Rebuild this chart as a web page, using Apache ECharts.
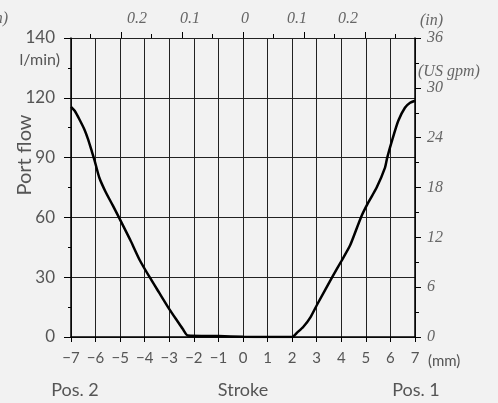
<!DOCTYPE html>
<html>
<head>
<meta charset="utf-8">
<script src="https://cdn.jsdelivr.net/npm/echarts@6/dist/echarts.min.js"></script>
<style>
  html, body { margin: 0; padding: 0; background: #f2f2f2; }
  #chart { width: 498px; height: 403px; }
</style>
</head>
<body>
<div id="chart"></div>
<script>
// stroke (mm) vs port flow (l/min)
var flowCurve = [
  [-7, 115.5], [-6.85, 113.5], [-6.65, 109], [-6.45, 104], [-6.3, 99], [-6.15, 93],
  [-6.05, 89], [-5.85, 80], [-5.6, 73], [-5.3, 66], [-5.05, 60], [-4.6, 49],
  [-4.2, 38.5], [-3.8, 30], [-3.4, 22], [-3, 14], [-2.7, 8.5], [-2.45, 4],
  [-2.25, 0.8], [-1, 0.5], [0, 0.1], [1, 0], [2, 0],
  [2.2, 2.2], [2.45, 5], [2.75, 10], [3.04, 16.8], [3.63, 30], [4, 38], [4.36, 46],
  [4.8, 60], [5.1, 67.5], [5.44, 75], [5.78, 85], [5.87, 90], [6.1, 100],
  [6.32, 108.5], [6.59, 115], [6.8, 117.5], [7, 118.5]
];

var xTickLabels = ['−7', '−6', '−5', '−4', '−3', '−2', '−1', '0', '1', '2', '3', '4', '5', '6', '7'];
var yTickValues = [0, 30, 60, 90, 120, 150];
var yTickLabels = ['0', '30', '60', '90', '120', '140'];

// top inch scale, positions given in mm
var topMajorTicks = [-4.96, -2.48, 0, 2.48, 4.96];
var topMinorTicks = [-6.2, -3.72, -1.24, 1.24, 3.72, 6.2];
var topLabelPos = [-4.31, -2.16, 0.08, 2.2, 4.27];
var topLabels = ['0.2', '0.1', '0', '0.1', '0.2'];

var sans = 'Lato, "Noto Sans", sans-serif';
var serif = '"Liberation Serif", "DejaVu Serif", serif';
var gridColor = '#222';

var myChart = echarts.init(document.getElementById('chart'));

var option = {
  backgroundColor: '#f2f2f2',
  animation: false,
  grid: { left: 71, right: 83, top: 38, bottom: 66 },
  xAxis: [
    {
      type: 'value', position: 'bottom', min: -7, max: 7, interval: 1,
      axisLine: { show: true, onZero: false, lineStyle: { color: '#000', width: 1.5 } },
      axisTick: { show: true, length: 5, lineStyle: { color: '#000' } },
      axisLabel: {
        margin: 14, fontSize: 15, color: '#555', fontFamily: sans,
        formatter: function (v) { return xTickLabels[Math.round(v) + 7]; }
      },
      splitLine: { show: true, lineStyle: { color: gridColor, width: 1 } }
    },
    {
      type: 'value', position: 'top', min: -7, max: 7,
      axisLine: { show: false, onZero: false },
      axisTick: { show: true, length: 6, customValues: topMajorTicks, lineStyle: { color: '#000' } },
      axisLabel: { show: false, customValues: topMajorTicks },
      splitLine: { show: false }
    },
    {
      type: 'value', position: 'top', min: -7, max: 7,
      axisLine: { show: false, onZero: false },
      axisTick: { show: true, length: 4, customValues: topMinorTicks, lineStyle: { color: '#000' } },
      axisLabel: {
        show: true, customValues: topLabelPos, margin: 11,
        fontSize: 16, fontStyle: 'italic', fontFamily: serif, color: '#666',
        formatter: function (v) {
          var best = 0;
          for (var i = 0; i < topLabelPos.length; i++) {
            if (Math.abs(topLabelPos[i] - v) < Math.abs(topLabelPos[best] - v)) best = i;
          }
          return topLabels[best];
        }
      },
      splitLine: { show: false }
    }
  ],
  yAxis: [
    {
      type: 'value', position: 'left', min: 0, max: 150, interval: 30,
      axisLine: { show: true, onZero: false, lineStyle: { color: '#000', width: 1.5 } },
      axisTick: { show: true, length: 7, lineStyle: { color: '#000' } },
      minorTick: { show: true, splitNumber: 2, length: 3, lineStyle: { color: '#000' } },
      axisLabel: {
        margin: 16, fontSize: 17, color: '#555', fontFamily: sans,
        formatter: function (v) { return yTickLabels[yTickValues.indexOf(v)]; }
      },
      splitLine: { show: true, lineStyle: { color: gridColor, width: 1 } }
    },
    {
      type: 'value', position: 'right', min: 0, max: 36, interval: 6,
      axisLine: { show: true, onZero: false, lineStyle: { color: '#000', width: 1.5 } },
      axisTick: { show: true, length: 6, lineStyle: { color: '#000' } },
      minorTick: { show: true, splitNumber: 2, length: 4, lineStyle: { color: '#000' } },
      axisLabel: {
        margin: 12, fontSize: 16, fontStyle: 'italic', fontFamily: serif, color: '#666'
      },
      splitLine: { show: false }
    }
  ],
  graphic: [
    { type: 'text', left: 420, top: 13, style: { text: '(in)', font: 'italic 16px ' + serif, fill: '#666' } },
    { type: 'text', right: 490, top: 11, style: { text: '(in)', font: 'italic 16px ' + serif, fill: '#666' } },
    { type: 'text', left: 418, top: 64, style: { text: '(US gpm)', font: 'italic 16px ' + serif, fill: '#666' } },
    { type: 'text', right: 438, top: 52, style: { text: 'l/min)', font: '16px ' + sans, fill: '#555' } },
    {
      type: 'text', x: 25, y: 155, rotation: Math.PI / 2,
      style: { text: 'Port flow', font: '20px ' + sans, fill: '#555', align: 'center', verticalAlign: 'middle' }
    },
    { type: 'text', x: 75, y: 390, style: { text: 'Pos. 2', font: '18px ' + sans, fill: '#555', align: 'center', verticalAlign: 'middle' } },
    { type: 'text', x: 243, y: 390, style: { text: 'Stroke', font: '18px ' + sans, fill: '#555', align: 'center', verticalAlign: 'middle' } },
    { type: 'text', x: 416, y: 390, style: { text: 'Pos. 1', font: '18px ' + sans, fill: '#555', align: 'center', verticalAlign: 'middle' } },
    { type: 'text', x: 428, y: 361, style: { text: '(mm)', font: '15px ' + sans, fill: '#555', verticalAlign: 'middle' } }
  ],
  series: [
    {
      type: 'line', xAxisIndex: 0, yAxisIndex: 0,
      data: flowCurve, showSymbol: false, smooth: 0.2,
      lineStyle: { color: '#000', width: 2.5 }
    }
  ]
};

myChart.setOption(option);
</script>
</body>
</html>
